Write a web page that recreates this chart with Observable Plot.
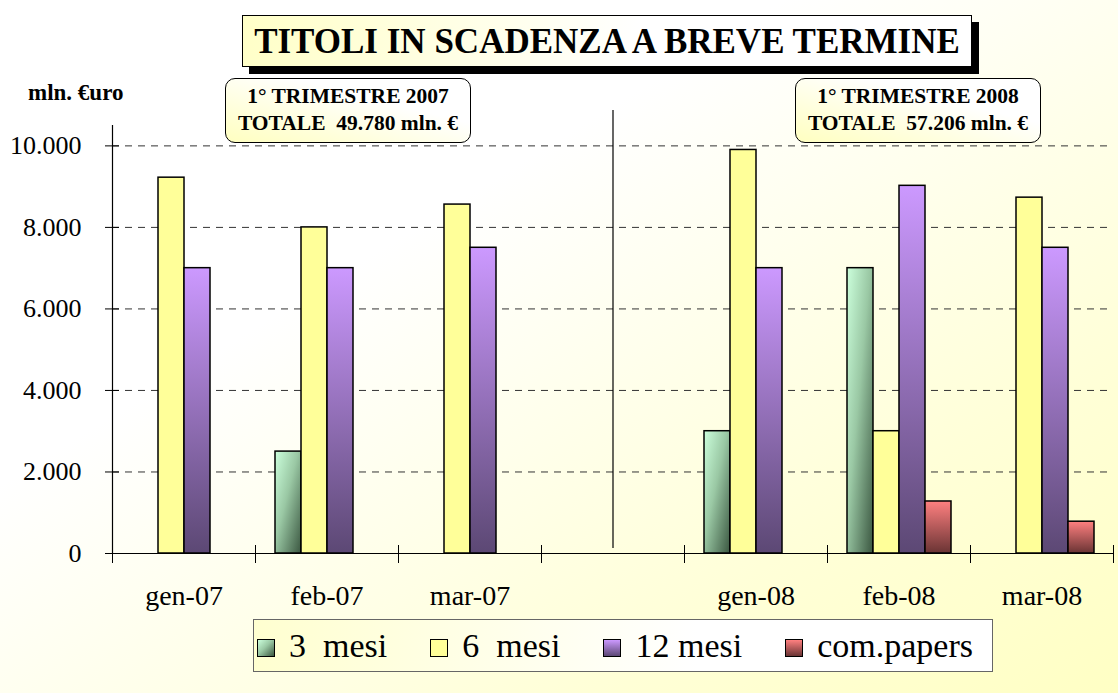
<!DOCTYPE html>
<html><head><meta charset="utf-8">
<script src="https://cdn.jsdelivr.net/npm/d3@7"></script>
<script src="https://cdn.jsdelivr.net/npm/@observablehq/plot@0.6"></script>
<style>
  body{margin:0;}
  #root{position:relative;width:1118px;height:693px;overflow:hidden;
    background:linear-gradient(to bottom right,#ffffff 35%,#ffffd8 75%,#ffffc4 100%);
    font-family:"Liberation Serif","Times New Roman",Times,"DejaVu Serif",serif;color:#000;}
  #chart{position:absolute;left:0;top:0;}
  .title{position:absolute;left:242px;top:15px;width:730px;height:52px;box-sizing:border-box;
    border:1px solid #000;box-shadow:7px 7px 0 #000;
    background:linear-gradient(to right,#ffffc8 0%,#ffffff 55%);
    font-weight:bold;font-size:35px;line-height:52px;text-align:center;white-space:nowrap;}
  .ylab{position:absolute;left:28px;top:81px;font-weight:bold;font-size:23px;line-height:23px;white-space:nowrap;}
  .note{position:absolute;top:78px;width:246px;height:65px;box-sizing:border-box;
    border:1.5px solid #000;border-radius:10px;
    background:linear-gradient(to top right,#ffffc0 0%,#ffffff 65%);
    font-weight:bold;font-size:21.5px;line-height:27px;text-align:center;padding-top:4px;white-space:pre;}
  .legend{position:absolute;left:253px;top:619px;width:740px;height:53px;box-sizing:border-box;
    border:1px solid #666;background:linear-gradient(to right,#ffffd0 0%,#ffffff 60%);
    display:flex;align-items:center;padding-left:3px;font-size:34px;white-space:pre;}
  .item{display:flex;align-items:center;margin-right:43px;}
  .sw{width:18px;height:18px;border:1.5px solid #000;box-sizing:border-box;margin-right:14px;margin-top:4px;}
</style>
</head><body>
<div id="root">
  <svg width="0" height="0" style="position:absolute">
    <defs>
      <linearGradient id="g3" x1="0" y1="0" x2="1" y2="1">
        <stop offset="0" stop-color="#ccffdc"/>
        <stop offset="0.45" stop-color="#9ac8a4"/>
        <stop offset="1" stop-color="#3a5640"/>
      </linearGradient>
      <linearGradient id="g12" x1="0" y1="0" x2="0" y2="1">
        <stop offset="0" stop-color="#cc99ff"/>
        <stop offset="1" stop-color="#5c4874"/>
      </linearGradient>
      <linearGradient id="gcp" x1="0" y1="0" x2="0" y2="1">
        <stop offset="0" stop-color="#ff8080"/>
        <stop offset="1" stop-color="#6a3434"/>
      </linearGradient>
    </defs>
  </svg>
  <div id="chart"></div>
  <div class="title">TITOLI IN SCADENZA A BREVE TERMINE</div>
  <div class="ylab">mln. €uro</div>
  <div class="note" id="n1" style="left:225px"></div>
  <div class="note" id="n2" style="left:795px"></div>
  <div class="legend" id="legend"></div>
</div>
<script>
// ---- data ----
const months = ["gen-07", "feb-07", "mar-07", "gen-08", "feb-08", "mar-08"];
const gapKey = " ";
const fxDomain = ["gen-07", "feb-07", "mar-07", gapKey, "gen-08", "feb-08", "mar-08"];
const series = ["3  mesi", "6  mesi", "12 mesi", "com.papers"];
const v3mesi  = [0, 2500, 0, 3000, 7000, 0];
const v6mesi  = [9220, 8000, 8560, 9900, 3000, 8730];
const v12mesi = [7000, 7000, 7500, 7000, 9020, 7500];
const vCP     = [0, 0, 0, 0, 1276, 780];
const yTicks = [0, 2000, 4000, 6000, 8000, 10000];
const notes = [
  ["1° TRIMESTRE 2007", "TOTALE  49.780 mln. €"],
  ["1° TRIMESTRE 2008", "TOTALE  57.206 mln. €"]
];
const fills = ["url(#g3)", "#ffff99", "url(#g12)", "url(#gcp)"];
const swatchCss = [
  "linear-gradient(135deg,#ccffdc,#9ac8a4 45%,#3a5640)",
  "#ffff99",
  "linear-gradient(to bottom,#cc99ff,#5c4874)",
  "linear-gradient(to bottom,#ff8080,#6a3434)"
];

// ---- table ----
const allSeries = [v3mesi, v6mesi, v12mesi, vCP];
const rows = [];
months.forEach((m, i) => allSeries.forEach((arr, j) => {
  if (arr[i] > 0) rows.push({month: m, series: series[j], value: arr[i]});
}));

const loc = d3.formatLocale({decimal: ",", thousands: ".", grouping: [3], currency: ["", "€"]});
const fmt = loc.format(",d");
const serif = "\"Liberation Serif\",\"Times New Roman\",Times,\"DejaVu Serif\",serif";

const chart = Plot.plot({
  width: 1118, height: 693,
  marginLeft: 110, marginRight: 3, marginTop: 125, marginBottom: 140,
  style: {fontFamily: serif, fontSize: "26px",
          background: "transparent", color: "black", overflow: "visible"},
  fx: {domain: fxDomain, padding: 0, label: null},
  x: {domain: series, paddingInner: 0, paddingOuter: 0.71, axis: null},
  y: {domain: [0, 10500], label: null},
  color: {domain: series, range: fills},
  marks: [
    Plot.ruleY(yTicks.filter(d => d > 0), {stroke: "#333", strokeDasharray: "7,6", strokeWidth: 1}),
    Plot.barY(rows, {fx: "month", x: "series", y: "value", fill: "series", stroke: "black", strokeWidth: 1.5}),
    Plot.ruleY([0], {stroke: "black", strokeWidth: 1.2}),
    Plot.frame({anchor: "left", fx: [months[0]], stroke: "black", strokeWidth: 1.2}),
    Plot.frame({anchor: "left", stroke: "black", insetTop: 420, insetBottom: -9}),
    Plot.frame({anchor: "right", stroke: "black", insetTop: 420, insetBottom: -9}),
    Plot.ruleX([gapKey], {fx: d => d, x: null, stroke: "black", strokeWidth: 1.2, insetTop: -15, insetBottom: 5}),
    Plot.axisY({ticks: yTicks, tickFormat: fmt, tickSize: 7, tickPadding: 24, fontSize: 26, anchor: "left", label: null}),
    Plot.axisY({ticks: yTicks, tickFormat: () => "", tickSize: 7, dx: 7, anchor: "left", label: null}),
    Plot.axisFx({anchor: "bottom", tickSize: 0, tickPadding: 32, fontSize: 28, tickFormat: d => d.trim(), label: null})
  ]
});
document.getElementById("chart").appendChild(chart);

// notes
["n1", "n2"].forEach((id, i) => {
  document.getElementById(id).textContent = notes[i].join("\n");
});

// legend
const lg = document.getElementById("legend");
series.forEach((s, i) => {
  const it = document.createElement("div");
  it.className = "item";
  const sw = document.createElement("div");
  sw.className = "sw";
  sw.style.background = swatchCss[i];
  const tx = document.createElement("span");
  tx.textContent = s;
  it.appendChild(sw); it.appendChild(tx);
  lg.appendChild(it);
});
</script>
</body></html>
